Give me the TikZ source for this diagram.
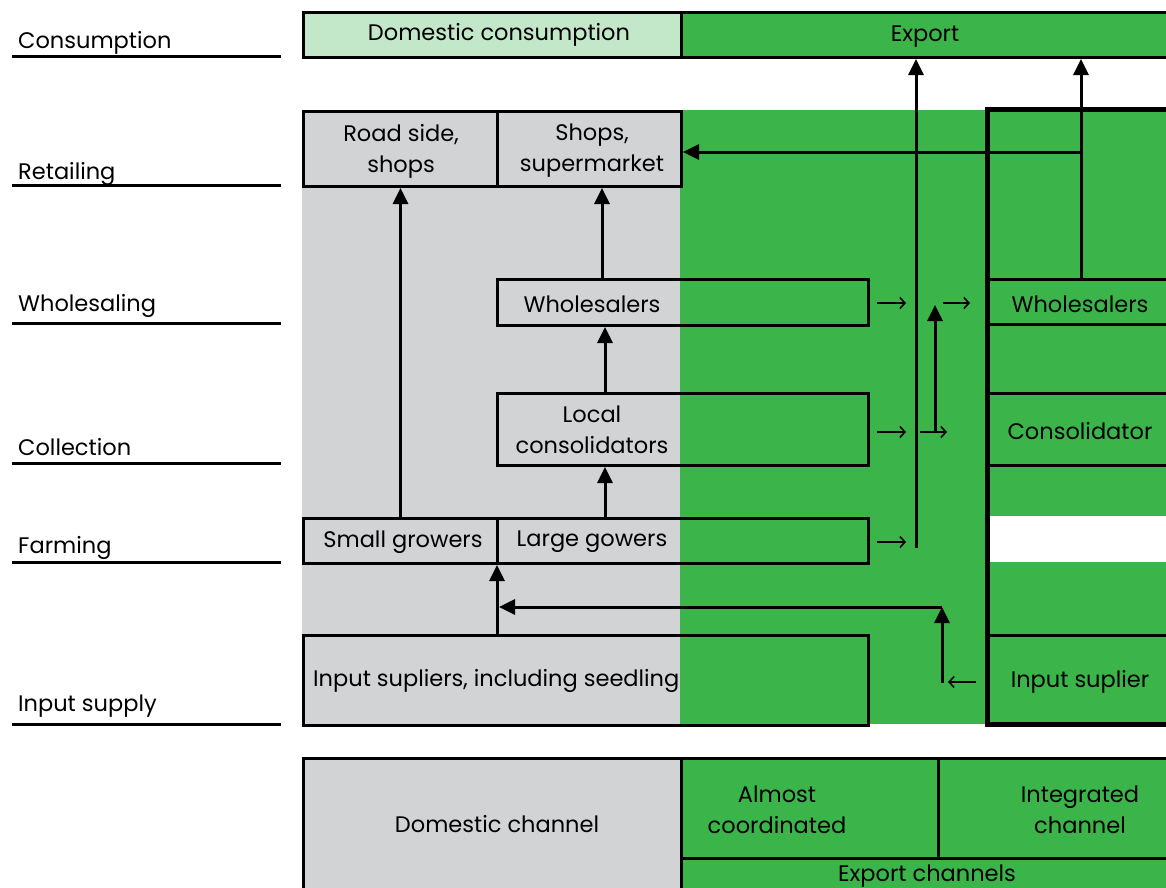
\documentclass[tikz,border=0pt]{standalone}
\usepackage{fontspec}
\setmainfont{Poppins}
\usetikzlibrary{arrows.meta}
\definecolor{grn}{HTML}{3BB54A}
\definecolor{lgrn}{HTML}{C3E7C9}
\definecolor{gry}{HTML}{D1D3D4}
\begin{document}
\begin{tikzpicture}[x=1pt,y=-1pt,
  box/.style={draw=black, line width=3pt, inner sep=0pt, anchor=north west, font=\fontsize{22.5}{31}\selectfont},
  txt/.style={font=\fontsize{22.5}{31}\selectfont, align=center, inner sep=0pt, yshift=-2pt},
  lab/.style={font=\fontsize{22.5}{31}\selectfont, anchor=base west, inner sep=0pt},
  rule/.style={line width=3pt},
  arr/.style={line width=3pt, -{Triangle[length=16pt,width=15pt]}},
  tick/.style={line width=1.6pt, -{Straight Barb[length=5pt,width=11pt]}}
]
\useasboundingbox (0,0) rectangle (1166,887);
\clip (0,0) rectangle (1166,887);

% left stage labels
\node[lab] (l1) at (18,48) {Consumption};
\node[lab] (l2) at (18,179) {Retailing};
\node[lab] (l3) at (18,311) {Wholesaling};
\node[lab] (l4) at (18,455) {Collection};
\node[lab] (l5) at (18,553) {Farming};
\node[lab] (l6) at (18,711) {Input supply};
\foreach \y in {56,185,323,463,562,724} \draw[rule] (12,\y) -- (281,\y);

% backgrounds
\fill[gry] (302,110) rectangle (680,724);
\fill[grn] (680,110) rectangle (987,724);

% consumption row
\node[box, fill=lgrn, minimum width=378pt, minimum height=45pt] (dom) at (302,11) {};
\node[box, fill=grn, minimum width=490pt, minimum height=45pt] (export) at (680,11) {};
\node[txt] at (499,33) {Domestic consumption};
\node[txt] at (925,35) {Export};

% retailing
\node[box, minimum width=194pt, minimum height=75pt] (road) at (302,110) {};
\node[box, minimum width=184pt, minimum height=75pt] (shops) at (496,110) {};
\node[txt] at (401,149) {Road side,\\shops};
\node[txt] at (592,149) {Shops,\\supermarket};

% domestic chain
\node[box, minimum width=371pt, minimum height=46pt] (wsD) at (496,278) {};
\node[txt] at (592,302) {Wholesalers};
\node[box, minimum width=371pt, minimum height=72pt] (lcons) at (496,392) {};
\node[txt] at (592,428) {Local\\consolidators};
\node[box, minimum width=194pt, minimum height=45pt] (small) at (302,517) {};
\node[txt] at (403,540) {Small growers};
\node[box, minimum width=371pt, minimum height=45pt] (large) at (496,517) {};
\node[txt] at (592,540) {Large gowers};
\node[box, minimum width=565pt, minimum height=90pt] (inp) at (302,634) {};
\node[txt, anchor=west] at (313,679) {Input supliers, including seedling};

% integrated column
\fill[grn] (987,109) rectangle (1170,724);
\fill[white] (989,516) rectangle (1170,562);
\node[box, minimum width=183pt, minimum height=45pt] (wsR) at (987,278) {};
\node[box, minimum width=183pt, minimum height=72pt] (cons) at (987,392) {};
\node[box, minimum width=183pt, minimum height=90pt] (inpR) at (987,634) {};
\node[txt] at (1080,302) {Wholesalers};
\node[txt] at (1080,429) {Consolidator};
\node[txt] at (1080,680) {Input suplier};
\draw[line width=5pt] (987,109) rectangle (1172,724);

% arrows
\coordinate (xa) at (602,0);
\coordinate (xb) at (605,0);
\coordinate (xc) at (497,0);
\coordinate (xr) at (1081,0);
\coordinate (h1) at (942,607);
\coordinate (v1) at (942,683);
\coordinate (c152) at (1081,152);
\coordinate (lf) at (916,548);
\coordinate (mf) at (935,432);
\coordinate (mt) at (935,305);

\draw[arr] (small.north) -- (road.south);
\draw[arr] (wsD.north -| xa) -- (shops.south -| xa);
\draw[arr] (lcons.north -| xb) -- (wsD.south -| xb);
\draw[arr] (large.north -| xb) -- (lcons.south -| xb);
\draw[arr] (inp.north -| xc) -- (small.south -| xc);
\draw[arr] (h1) -- (499,607);
\draw[arr] (v1) -- (h1);
\draw[arr] (lf) -- (lf |- export.south);
\draw[arr] (mf) -- (mt);
\draw[arr] (wsR.north -| xr) -- (export.south -| xr);
\draw[arr] (c152) -- (shops.east |- c152);

\draw[tick] (877,303) -- (906,303);
\draw[tick] (943,303) -- (970,303);
\draw[tick] (877,432) -- (906,432);
\draw[tick] (920,432) -- (947,432);
\draw[tick] (877,542) -- (906,542);
\draw[tick] (976,682) -- (948,682);

% bottom legend
\node[box, fill=gry, minimum width=378pt, minimum height=134pt] (dch) at (302,757) {};
\node[box, fill=grn, minimum width=257pt, minimum height=100pt] (alm) at (680,757) {};
\node[box, fill=grn, minimum width=233pt, minimum height=100pt] (integ) at (937,757) {};
\node[box, fill=grn, minimum width=490pt, minimum height=36pt] (expch) at (680,857) {};
\node[txt] at (497,822) {Domestic channel};
\node[txt] at (777,808) {Almost\\coordinated};
\node[txt] at (1080,808) {Integrated\\channel};
\node[txt] at (927,874) {Export channels};
\end{tikzpicture}
\end{document}
